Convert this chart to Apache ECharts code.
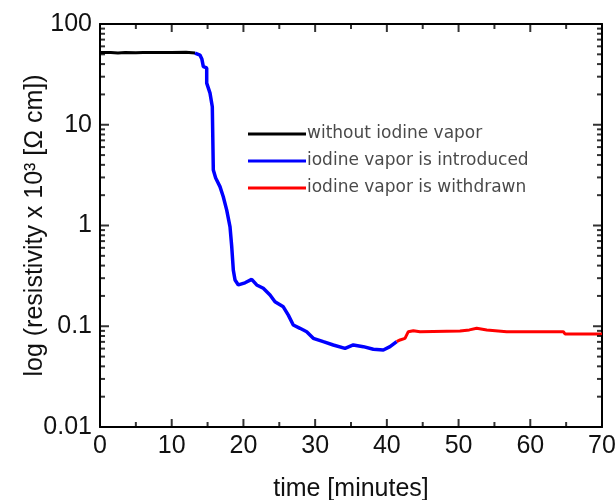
<!DOCTYPE html>
<html>
<head>
<meta charset="utf-8">
<script src="https://cdn.jsdelivr.net/npm/echarts@6/dist/echarts.min.js"></script>
<style>html,body{margin:0;padding:0;background:#fff;}#c{width:616px;height:500px;}</style>
</head>
<body>
<div id="c"></div>
<script>
var seriesNames = ['without iodine vapor', 'iodine vapor is introduced', 'iodine vapor is withdrawn'];
var xTicks = [0, 10, 20, 30, 40, 50, 60, 70];
var xMinorTicks = [5, 15, 25, 35, 45, 55, 65];
var yTicks = [0.01, 0.1, 1, 10, 100];
var yMinorTicks = [0.02,0.03,0.04,0.05,0.06,0.07,0.08,0.09,0.2,0.3,0.4,0.5,0.6,0.7,0.8,0.9,2,3,4,5,6,7,8,9,20,30,40,50,60,70,80,90];

var noVapor = [[0,52],[1.5,52],[2.5,51.6],[3.5,52],[5,51.7],[6,52],[8,52],[10,52],[12,52.3],[13.25,51.5]];
var introduced = [[13.25,51.5],[13.94,49.2],[14.2,45],[14.41,37.7],[14.88,36.6],[14.88,25.9],[15.34,20.6],[15.66,15.1],[15.8,3.56],[16.13,2.96],[16.73,2.43],[17.19,1.93],[17.67,1.42],[18.13,0.971],[18.37,0.615],[18.59,0.361],[18.83,0.288],[19.29,0.257],[20.22,0.27],[21.15,0.292],[21.85,0.257],[22.77,0.238],[23.71,0.204],[24.4,0.175],[25.56,0.156],[26.26,0.129],[26.95,0.103],[27.89,0.0954],[28.82,0.0883],[29.74,0.0759],[31.14,0.0703],[32.53,0.0652],[34.17,0.0604],[35.32,0.0652],[36.72,0.0627],[38.11,0.0591],[39.51,0.0581],[40.44,0.0627],[41.37,0.0703]];
var withdrawn = [[41.37,0.0703],[41.84,0.0731],[42.53,0.0759],[42.99,0.0883],[43.69,0.0904],[44.62,0.0883],[50.2,0.0897],[51.5,0.092],[52.53,0.0954],[53.93,0.0918],[56.71,0.0883],[64.61,0.0883],[64.84,0.0838],[70,0.0838]];

var font = 'Liberation Sans, Arial, sans-serif';
var chart = echarts.init(document.getElementById('c'));

function xAx(pos, labels) {
  return {
    type: 'value', position: pos, min: 0, max: 70, interval: 10,
    axisLine: {show: true, onZero: false, lineStyle: {color: '#000', width: 2}},
    axisTick: {show: false},
    minorTick: {show: false},
    splitLine: {show: false},
    axisLabel: {show: labels, margin: 7, color: '#111', fontFamily: font, fontSize: 25},
    name: labels ? 'time [minutes]' : '',
    nameLocation: 'middle', nameGap: 50, nameMoveOverlap: false,
    nameTextStyle: {color: '#111', fontFamily: font, fontSize: 25}
  };
}
function yAx(pos, labels) {
  var ax = {
    type: 'log', logBase: 10, position: pos, min: 0.01, max: 100,
    axisLine: {show: true, onZero: false, lineStyle: {color: '#000', width: 2}},
    axisTick: {show: false},
    splitLine: {show: false},
    axisLabel: {show: labels, margin: 8, color: '#111', fontFamily: font, fontSize: 25}
  };
  if (labels) {
    ax.name = 'log (resistivity x 10³ [Ω cm])';
    ax.nameLocation = 'middle';
    ax.nameRotate = 90;
    ax.nameGap = 52;
    ax.nameMoveOverlap = false;
    ax.nameTextStyle = {color: '#111', fontFamily: font, fontSize: 25};
  }
  return ax;
}

function tickSeries(data, size, offset) {
  return {type: 'scatter', silent: true, clip: false, symbol: 'rect', symbolSize: size, symbolOffset: offset,
    z: 4, itemStyle: {color: '#000'}, data: data};
}

var option = {
  animation: false,
  backgroundColor: '#fff',
  grid: {left: 100, right: 14, top: 24, bottom: 73, outerBoundsMode: 'none'},
  xAxis: [xAx('bottom', true), xAx('top', false)],
  yAxis: [yAx('left', true), yAx('right', false)],
  legend: {
    orient: 'vertical', left: 243, top: 120, itemGap: 9, itemWidth: 58, itemHeight: 3, icon: 'rect',
    textStyle: {color: '#4a4a4a', fontFamily: 'DejaVu Sans, sans-serif', fontSize: 17, lineHeight: 18, padding: [0,0,0,-4]},
    data: seriesNames
  },
  series: [
    {name: seriesNames[0], type: 'line', data: noVapor, symbol: 'none', color: '#000', lineStyle: {width: 3, color: '#000'}},
    {name: seriesNames[1], type: 'line', data: introduced, symbol: 'none', color: '#0000ff', lineStyle: {width: 3.5, color: '#0000ff'}},
    {name: seriesNames[2], type: 'line', data: withdrawn, symbol: 'none', color: '#ff0000', lineStyle: {width: 3, color: '#ff0000'}},
    tickSeries(xTicks.map(function (v) { return [v, 0.01]; }), [2, 8], [0, -4]),
    tickSeries(xTicks.map(function (v) { return [v, 100]; }), [2, 8], [0, 4]),
    tickSeries(xMinorTicks.map(function (v) { return [v, 0.01]; }), [2, 5], [0, -2.5]),
    tickSeries(xMinorTicks.map(function (v) { return [v, 100]; }), [2, 5], [0, 2.5]),
    tickSeries(yTicks.map(function (v) { return [0, v]; }), [9, 2], [4.5, 0]),
    tickSeries(yTicks.map(function (v) { return [70, v]; }), [9, 2], [-4.5, 0]),
    tickSeries(yMinorTicks.map(function (v) { return [0, v]; }), [5, 2], [2.5, 0]),
    tickSeries(yMinorTicks.map(function (v) { return [70, v]; }), [5, 2], [-2.5, 0])
  ]
};
chart.setOption(option);
</script>
</body>
</html>
